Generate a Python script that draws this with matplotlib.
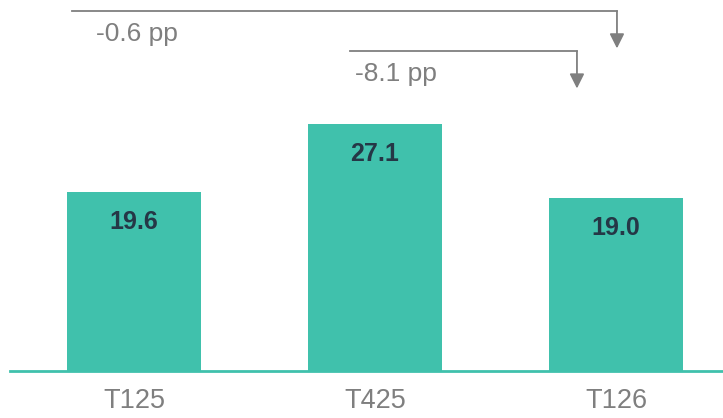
import numpy as np
import matplotlib.pyplot as plt

plt.rcParams['font.family'] = ['Liberation Sans', 'DejaVu Sans']

categories = ["T125", "T425", "T126"]
values = [19.6, 27.1, 19.0]
diff_labels = ["-0.6 pp", "-8.1 pp"]

bar_color = "#40C1AC"
grey = "#7F7F7F"
dark = "#253746"

fig = plt.figure(figsize=(7.23, 4.18), dpi=100)
ax = fig.add_axes([0, 0, 1, 1])

x = np.arange(len(categories))
ax.bar(x, values, width=0.556, color=bar_color, zorder=2)

for xi, v in zip(x, values):
    ax.text(xi, v - 3.3, f"{v:.1f}", ha="center", va="center",
            fontsize=18, fontweight="bold", color=dark, zorder=3)

for xi, c in zip(x, categories):
    ax.text(xi, -3.3, c, ha="center", va="center", fontsize=19.5, color=grey)

# baseline
ax.axhline(0, xmin=0.014, xmax=1, color=bar_color, lw=2, zorder=3)

# bracket arrows: T126 vs T125 and T126 vs T425
top = max(values)
brackets = [(-0.257, 2.004, top + 12.4, top + 8.3, diff_labels[0], 0.10),
            (0.896, 1.838, top + 8.0, top + 3.9, diff_labels[1], 0.02)]
for x0, x1, y_line, y_tip, lab, dx in brackets:
    ax.plot([x0, x1], [y_line, y_line], color=grey, lw=1.3)
    ax.annotate("", xy=(x1, y_tip), xytext=(x1, y_line),
                arrowprops=dict(arrowstyle="-|>", color=grey, lw=1.3,
                                mutation_scale=22, shrinkA=0, shrinkB=0))
    ax.text(x0 + dx, y_line - 2.55, lab, ha="left", va="center",
            fontsize=19, color=grey)

ax.set_xlim(-0.556, 2.444)
ax.set_ylim(-5.157, 40.71)
ax.axis("off")

fig.savefig("out.png", dpi=100)
